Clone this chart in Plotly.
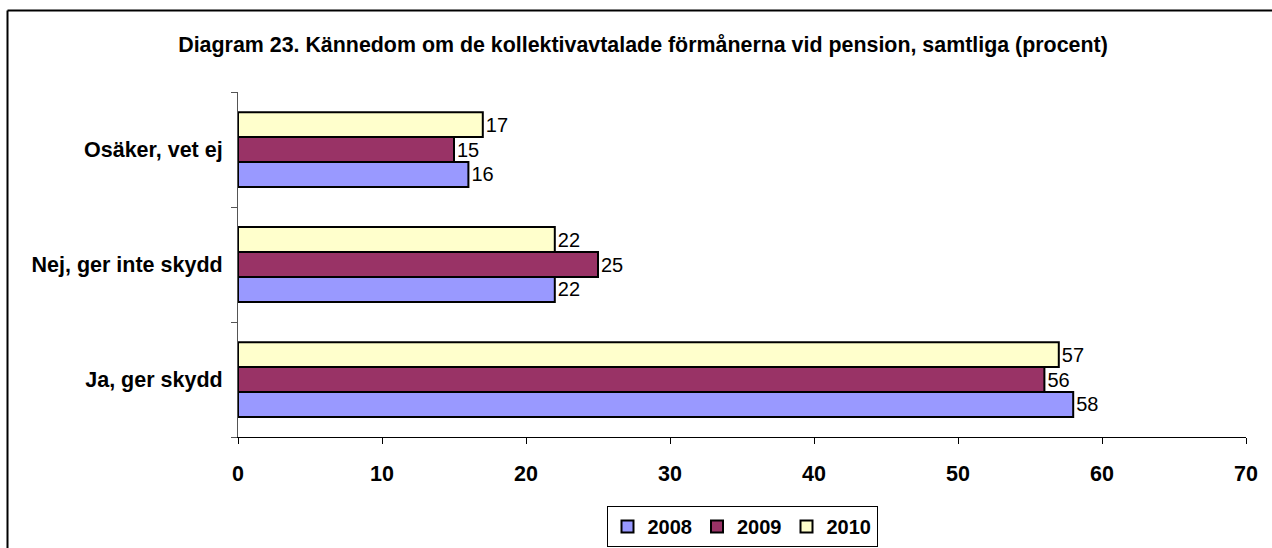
import plotly.graph_objects as go

categories = ["Ja, ger skydd", "Nej, ger inte skydd", "Osäker, vet ej"]
years = ["2008", "2009", "2010"]
values_2008 = [58, 22, 16]
values_2009 = [56, 25, 15]
values_2010 = [57, 22, 17]
colors = ["#9999FF", "#993366", "#FFFFCC"]
x_ticks = [0, 10, 20, 30, 40, 50, 60, 70]

FONT = "Liberation Sans, Arial, sans-serif"

fig = go.Figure()
for name, vals, col in zip(years, [values_2008, values_2009, values_2010], colors):
    fig.add_trace(go.Bar(
        y=categories, x=vals, name=f"<b>{name}</b>", orientation="h",
        marker=dict(color=col, line=dict(color="black", width=2)),
        text=[str(v) for v in vals], textposition="outside",
        textfont=dict(family=FONT, size=20, color="black"),
        cliponaxis=False,
    ))

fig.update_layout(
    width=1272, height=548,
    margin=dict(l=238, r=26, t=92, b=111, autoexpand=False),
    barmode="group", bargap=0.35, bargroupgap=0,
    plot_bgcolor="white", paper_bgcolor="white",
    font=dict(family=FONT, color="black"),
    title=dict(text="<b>Diagram 23. Kännedom om de kollektivavtalade förmånerna vid pension, samtliga (procent)</b>",
               x=0.5055, xanchor="center", y=1 - 45/548, yanchor="middle",
               font=dict(family=FONT, size=21.4, color="black")),
    xaxis=dict(range=[0, 70], tickvals=x_ticks, ticktext=[f"<b>{t}</b>" for t in x_ticks],
               showgrid=False, zeroline=False, showline=True, linecolor="black", linewidth=1,
               ticks="outside", ticklen=6, tickcolor="black", ticklabelstandoff=11,
               tickfont=dict(family=FONT, size=21.5, color="black")),
    yaxis=dict(showgrid=False, zeroline=False, showline=True, linecolor="#555555", linewidth=1,
               ticks="outside", ticklen=6, tickcolor="#555555", tickson="boundaries",
               ticklabelstandoff=10,
               ticktext=[f"<b>{c}</b>" for c in categories], tickvals=categories,
               tickfont=dict(family=FONT, size=21.5, color="black")),
    legend=dict(orientation="h", x=0.5, xanchor="center", y=-0.2, yanchor="top",
                bordercolor="black", borderwidth=1, tracegroupgap=0,
                font=dict(family=FONT, size=20, color="black"),
                itemwidth=30, traceorder="normal"),
    shapes=[
        dict(type="line", xref="paper", yref="paper", x0=(7.5-238)/1008, x1=(1280-238)/1008,
             y0=(437-10.5)/345, y1=(437-10.5)/345, line=dict(color="black", width=2)),
        dict(type="line", xref="paper", yref="paper", x0=(7.5-238)/1008, x1=(7.5-238)/1008,
             y0=(437-10.5)/345, y1=(437-560)/345, line=dict(color="black", width=2)),
    ],
)

fig.write_html("out.html", config={"displayModeBar": False},
               post_script="document.body.style.margin='0px';document.body.style.overflow='hidden';")
